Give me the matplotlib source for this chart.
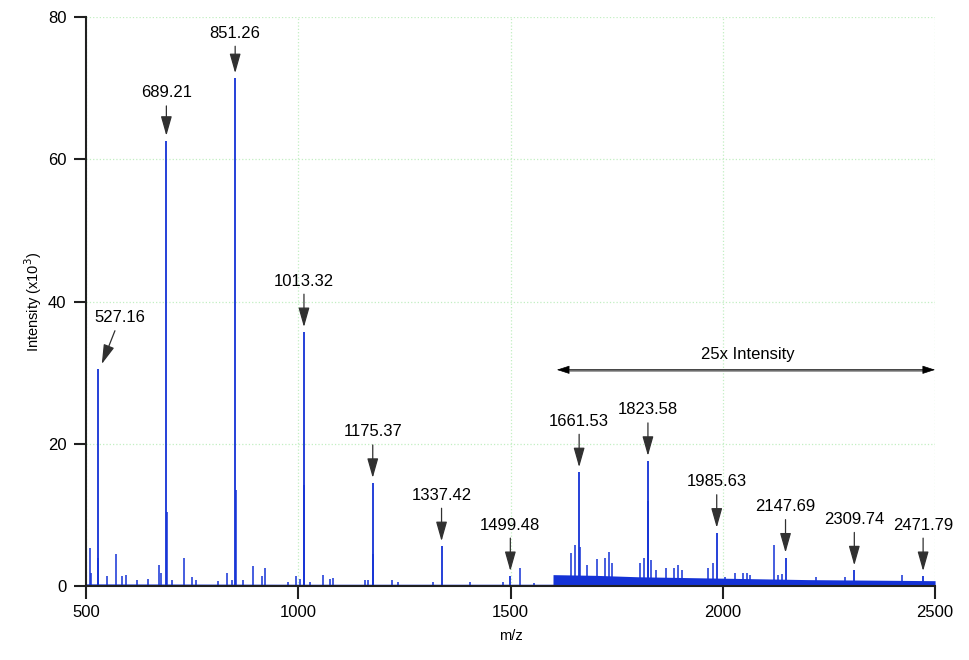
import matplotlib
matplotlib.use('Agg')
import matplotlib.pyplot as plt

plt.rcParams['font.family'] = ['Liberation Sans', 'DejaVu Sans']

# labelled peaks (m/z, intensity x10^3)
label_mz = [527.16, 689.21, 851.26, 1013.32, 1175.37, 1337.42, 1499.48,
            1661.53, 1823.58, 1985.63, 2147.69, 2309.74, 2471.79]
label_int = [30.5, 62.6, 71.4, 35.7, 14.5, 5.6, 1.4,
             16.0, 17.6, 7.5, 4.0, 2.2, 1.4]

# isotope shoulders next to the main peaks
iso_mz = [528.2, 690.2, 852.3, 1014.3, 1176.4, 1662.5, 1824.6]
iso_int = [4.0, 10.4, 13.5, 14.2, 4.5, 5.5, 11.9]

# other peaks
minor_mz = [509, 511, 550, 570, 585, 594, 620, 646, 672, 676, 703, 731, 749,
            760, 812, 833, 843, 869, 893, 914, 922, 975, 995, 1005, 1028,
            1057, 1075, 1082, 1157, 1165, 1220, 1235, 1318, 1405, 1483, 1522,
            1555,
            1642, 1652, 1679, 1704, 1723, 1732, 1740, 1805, 1814, 1830, 1842,
            1866, 1885, 1894, 1905, 1966, 1976, 2005, 2029, 2048, 2057, 2065,
            2121, 2131, 2139, 2220, 2288, 2421]
minor_int = [5.3, 1.8, 1.4, 4.5, 1.4, 1.5, 0.9, 1.0, 2.9, 1.8, 0.8, 4.0, 1.2,
             0.9, 0.7, 1.8, 0.9, 0.8, 2.8, 1.4, 2.5, 0.5, 1.4, 1.0, 0.6,
             1.5, 1.0, 1.1, 0.8, 0.9, 0.9, 0.6, 0.6, 0.6, 0.5, 2.5,
             0.4,
             4.6, 5.8, 2.95, 3.8, 3.9, 4.8, 3.2, 3.2, 3.9, 3.7, 2.3,
             2.6, 2.6, 2.95, 2.3, 2.5, 3.2, 1.3, 1.8, 1.9, 1.9, 1.6,
             5.7, 1.5, 1.7, 1.2, 1.2, 1.5]

# baseline (noise floor), 25x scaled above 1600
base_mz = [500, 1000, 1599.9, 1600, 1700, 1800, 1900, 2000, 2100,
           2200, 2300, 2400, 2500]
base_int = [0.3, 0.25, 0.25, 1.6, 1.5, 1.3, 1.2, 1.1, 1.0,
            0.9, 0.85, 0.8, 0.75]

blue = '#1432d6'

fig = plt.figure(figsize=(9.69, 6.6), dpi=100)
ax = fig.add_axes([0.0888, 0.1121, 0.8762, 0.8621])

ax.fill_between(base_mz, 0, base_int, color=blue, lw=0)
ax.vlines(minor_mz, 0, minor_int, color=blue, lw=1.1)
ax.vlines(iso_mz, 0, iso_int, color=blue, lw=1.1)
ax.vlines(label_mz, 0, label_int, color=blue, lw=1.3)

arrow = dict(arrowstyle='-|>,head_length=0.6,head_width=0.17',
             mutation_scale=20, color='#303030', lw=0.9,
             shrinkA=2, shrinkB=3.6)

for mz, h in zip(label_mz, label_int):
    if mz == 527.16:
        ax.annotate('%.2f' % mz, xy=(537, h + 0.7), xytext=(580, h + 7.2),
                    ha='center', va='center', fontsize=12,
                    arrowprops=dict(arrow, shrinkB=0))
        continue
    off = 36.7
    if h > 70:
        off = 32.4
    elif h > 60:
        off = 34.5
    ax.annotate('%.2f' % mz, xy=(mz, h), xytext=(0, off),
                textcoords='offset points',
                ha='center', va='center', fontsize=12, arrowprops=arrow)

# 25x intensity range
ax.annotate('', xy=(1609, 30.4), xytext=(2500, 30.4),
            arrowprops=dict(arrowstyle='<|-|>,head_length=0.4,head_width=0.13',
                            mutation_scale=20, color='black', lw=0.5,
                            shrinkA=0, shrinkB=0))
ax.plot([1640, 2470], [30.4, 30.4], color='#808080', lw=1.8)
ax.text(2060, 32.5, '25x Intensity', ha='center', va='center', fontsize=12)

ax.set_xlim(500, 2500)
ax.set_ylim(0, 80)
ax.set_xticks([500, 1000, 1500, 2000, 2500])
ax.set_yticks([0, 20, 40, 60, 80])
ax.grid(True, color='#c2efc2', ls=':', lw=0.9)
ax.set_axisbelow(True)

for s in ['top', 'right']:
    ax.spines[s].set_visible(False)
for s in ['left', 'bottom']:
    ax.spines[s].set_linewidth(1.5)
    ax.spines[s].set_color('#202020')
ax.tick_params(direction='out', length=9, width=1.5, labelsize=12, pad=5,
               color='#202020')

ax.set_xlabel('m/z', fontsize=10.5, labelpad=6)
ax.set_ylabel(r'Intensity (x10$^3$)', fontsize=10.5, labelpad=3)

fig.savefig('out.png', dpi=100)
